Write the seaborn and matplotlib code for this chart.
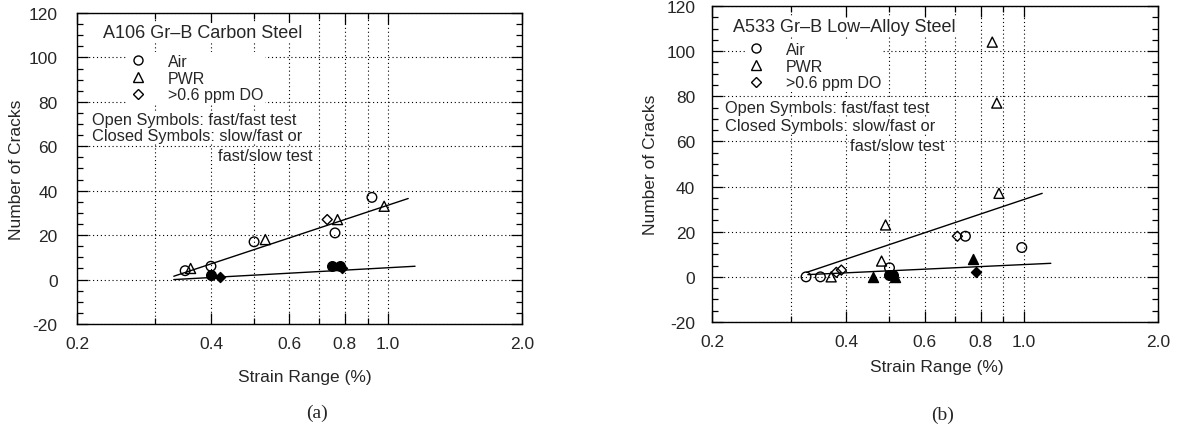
import matplotlib
matplotlib.use("Agg")
import pandas as pd
import seaborn as sns
import matplotlib.pyplot as plt
from matplotlib.lines import Line2D
from matplotlib.ticker import FixedLocator, NullFormatter, MultipleLocator

# ---- panel (a): A106 Gr-B carbon steel ----
a_air_open_x = [0.35, 0.40, 0.50, 0.76, 0.92]
a_air_open_y = [4, 6, 17, 21, 37]
a_pwr_open_x = [0.36, 0.53, 0.77, 0.98]
a_pwr_open_y = [5, 18, 27, 33]
a_do_open_x = [0.73]
a_do_open_y = [27]
a_air_closed_x = [0.40, 0.75, 0.78]
a_air_closed_y = [2, 6, 6]
a_do_closed_x = [0.42, 0.79]
a_do_closed_y = [1, 5]
a_fit_open_x = [0.33, 1.11]
a_fit_open_y = [1.5, 36.5]
a_fit_closed_x = [0.33, 1.15]
a_fit_closed_y = [0, 6]

# ---- panel (b): A533 Gr-B low-alloy steel ----
b_air_open_x = [0.325, 0.35, 0.50, 0.74, 0.99]
b_air_open_y = [0, 0, 4, 18, 13]
b_pwr_open_x = [0.37, 0.48, 0.49, 0.85, 0.87, 0.88]
b_pwr_open_y = [0, 7, 23, 104, 77, 37]
b_do_open_x = [0.38, 0.39, 0.71]
b_do_open_y = [2, 3, 18]
b_air_closed_x = [0.50, 0.51]
b_air_closed_y = [1, 1]
b_pwr_closed_x = [0.46, 0.515, 0.77]
b_pwr_closed_y = [0, 0, 8]
b_do_closed_x = [0.78]
b_do_closed_y = [2]
b_fit_open_x = [0.326, 1.10]
b_fit_open_y = [2, 37]
b_fit_closed_x = [0.328, 1.15]
b_fit_closed_y = [1, 6]

x_ticks = [0.2, 0.4, 0.6, 0.8, 1.0, 2.0]
x_ticklabels = ["0.2", "0.4", "0.6", "0.8", "1.0", "2.0"]
x_minor = [0.3, 0.5, 0.7, 0.9]
y_ticks = [-20, 0, 20, 40, 60, 80, 100, 120]


def make_df(groups):
    rows = []
    for env, closed, xs, ys in groups:
        for x, y in zip(xs, ys):
            rows.append({"strain": x, "cracks": y, "env": env, "closed": closed})
    return pd.DataFrame(rows)


df_a = make_df([
    ("Air", False, a_air_open_x, a_air_open_y),
    ("PWR", False, a_pwr_open_x, a_pwr_open_y),
    ("DO", False, a_do_open_x, a_do_open_y),
    ("Air", True, a_air_closed_x, a_air_closed_y),
    ("DO", True, a_do_closed_x, a_do_closed_y),
])
df_b = make_df([
    ("Air", False, b_air_open_x, b_air_open_y),
    ("PWR", False, b_pwr_open_x, b_pwr_open_y),
    ("DO", False, b_do_open_x, b_do_open_y),
    ("Air", True, b_air_closed_x, b_air_closed_y),
    ("PWR", True, b_pwr_closed_x, b_pwr_closed_y),
    ("DO", True, b_do_closed_x, b_do_closed_y),
])

markers = {"Air": "o", "PWR": "^", "DO": "D"}
sizes = {"Air": 48, "PWR": 52, "DO": 26}

sns.set_style("ticks")
plt.rcParams["font.family"] = ["Liberation Sans", "DejaVu Sans"]
plt.rcParams["axes.unicode_minus"] = False

W, H = 1177, 427
fig = plt.figure(figsize=(W / 100, H / 100), dpi=100)
ax_a = fig.add_axes([77 / W, 1 - 325 / H, 445 / W, 311 / H])
ax_b = fig.add_axes([712 / W, 1 - 323 / H, 446 / W, 316 / H])


def draw_panel(ax, df, fits, ytick_pad):
    for (env, closed), sub in df.groupby(["env", "closed"]):
        sns.scatterplot(data=sub, x="strain", y="cracks", ax=ax,
                        marker=markers[env], s=sizes[env],
                        facecolor="k" if closed else "none",
                        edgecolor="k", linewidth=1.0, zorder=4, legend=False)
    for fx, fy in fits:
        sns.lineplot(x=fx, y=fy, ax=ax, color="k", lw=1.0, zorder=3)
    ax.set_xscale("log")
    ax.set_xlim(0.2, 2.0)
    ax.set_ylim(-20, 120)
    ax.xaxis.set_major_locator(FixedLocator(x_ticks))
    ax.set_xticklabels(x_ticklabels)
    ax.xaxis.set_minor_locator(FixedLocator(x_minor))
    ax.xaxis.set_minor_formatter(NullFormatter())
    ax.set_yticks(y_ticks)
    ax.yaxis.set_minor_locator(MultipleLocator(5))
    ax.tick_params(which="both", direction="in", top=True, right=True,
                   color="k", width=0.9, labelsize=12.5)
    ax.tick_params(which="major", length=8)
    ax.tick_params(which="minor", length=4)
    ax.tick_params(axis="x", which="major", pad=9)
    ax.tick_params(axis="y", which="major", pad=ytick_pad)
    grid_kw = dict(color="k", lw=0.8, ls=(0, (1, 2.5)))
    ax.grid(True, which="both", axis="x", **grid_kw)
    ax.grid(True, which="major", axis="y", **grid_kw)
    ax.set_axisbelow(True)
    for sp in ax.spines.values():
        sp.set_linewidth(1.0)
        sp.set_color("k")
    ax.set_xlabel("Strain Range (%)", fontsize=12.5)
    ax.set_ylabel("Number of Cracks", fontsize=12.5)


draw_panel(ax_a, df_a, [(a_fit_open_x, a_fit_open_y),
                        (a_fit_closed_x, a_fit_closed_y)], 14)
draw_panel(ax_b, df_b, [(b_fit_open_x, b_fit_open_y),
                        (b_fit_closed_x, b_fit_closed_y)], 12)

ax_a.xaxis.set_label_coords(0.512, -0.145)
ax_a.yaxis.set_label_coords(-0.12, 0.5)
ax_b.xaxis.set_label_coords(0.504, -0.117)
ax_b.yaxis.set_label_coords(-0.12, 0.5)

box = dict(facecolor="white", edgecolor="none", pad=0.5)


def ftext(x, y, s, size=11.8, **kw):
    fig.text(x / W, 1 - y / H, s, fontsize=size, va="center", ha="left",
             bbox=box, **kw)


def legend_at(x, y):
    handles = [Line2D([], [], ls="none", marker="o", ms=6.5, mfc="none", mec="k", mew=1.0),
               Line2D([], [], ls="none", marker="^", ms=6.5, mfc="none", mec="k", mew=1.0),
               Line2D([], [], ls="none", marker="D", ms=4.8, mfc="none", mec="k", mew=1.0)]
    fig.legend(handles, ["Air", "PWR", ">0.6 ppm DO"], loc="upper left",
               bbox_to_anchor=(x / W, 1 - y / H), bbox_transform=fig.transFigure,
               borderaxespad=0, borderpad=0.1, handlelength=1.0, handletextpad=1.4,
               labelspacing=0.12, frameon=True, facecolor="white", edgecolor="none",
               framealpha=1, fancybox=False, fontsize=11.5)


# panel (a) annotations
ftext(103, 33, "A106 Gr\u2013B Carbon Steel", size=13)
legend_at(128, 53)
ftext(92, 120, "Open Symbols: fast/fast test")
ftext(92, 137, "Closed Symbols: slow/fast or")
ftext(218, 157, "fast/slow test")

# panel (b) annotations
ftext(733, 28, "A533 Gr\u2013B Low\u2013Alloy Steel", size=13)
legend_at(746, 41)
ftext(725, 108, "Open Symbols: fast/fast test")
ftext(725, 127, "Closed Symbols: slow/fast or")
ftext(850, 147, "fast/slow test")

fig.text(317 / W, 1 - 413 / H, "(a)", fontsize=14, ha="center", va="center",
         family=["Liberation Serif", "DejaVu Serif"])
fig.text(943 / W, 1 - 415 / H, "(b)", fontsize=14, ha="center", va="center",
         family=["Liberation Serif", "DejaVu Serif"])

fig.savefig("out.png", dpi=100)
